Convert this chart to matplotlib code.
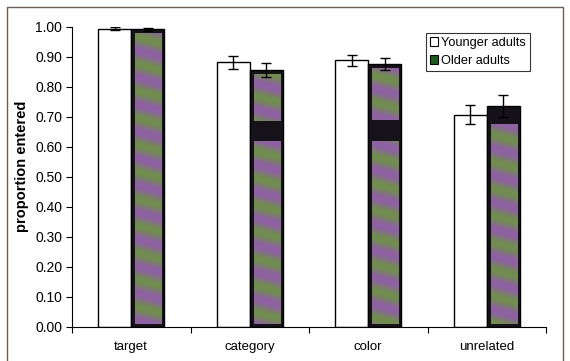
import numpy as np
import matplotlib
matplotlib.use('Agg')
import matplotlib.pyplot as plt
from matplotlib.patches import Rectangle

plt.rcParams['font.family'] = ['Liberation Sans', 'DejaVu Sans']

categories = ['target', 'category', 'color', 'unrelated']
younger = [0.994, 0.882, 0.888, 0.707]
younger_err = [0.004, 0.022, 0.019, 0.032]
older = [0.991, 0.855, 0.876, 0.735]
older_err = [0.004, 0.024, 0.020, 0.036]
# dark band inside the older-adult bars (low, high), None where absent
older_band = [None, (0.620, 0.685), (0.620, 0.690), (0.675, 0.735)]
yticks = [0.0, 0.1, 0.2, 0.3, 0.4, 0.5, 0.6, 0.7, 0.8, 0.9, 1.0]

BAR_W = 0.28
PURPLE = np.array([150, 85, 180]) / 255
GREEN = np.array([105, 150, 55]) / 255
GREY = np.array([128, 122, 130]) / 255
DARK = '#161219'


def texture(b, t, phase, nx=24):
    """Purple/green banded fill used inside the dark bars."""
    ny = max(int((t - b) * 300), 4)
    yv = np.linspace(t, b, ny)[:, None]
    xv = np.linspace(0, 1, nx)[None, :]
    s = 0.5 + 0.5 * np.sin(2 * np.pi * (yv / 0.09 + xv * 0.25) + phase)
    img = s[..., None] * PURPLE + (1 - s[..., None]) * GREEN
    return 0.7 * img + 0.3 * GREY


fig = plt.figure(figsize=(5.7, 3.61), dpi=100)
ax = fig.add_axes([72 / 570, 34.3 / 361, 474 / 570, 300 / 361])

x = np.arange(len(categories)) + 0.5
px = 1 / 118.5      # one pixel in x data units
py = 1 / 300        # one pixel in y data units

ax.bar(x - BAR_W / 2, younger, BAR_W, color='white', edgecolor='black',
       linewidth=1.0, zorder=2)
ax.bar(x + BAR_W / 2, older, BAR_W, color=DARK, edgecolor='black',
       linewidth=1.0, zorder=2)

for i, (xc, h) in enumerate(zip(x + BAR_W / 2, older)):
    left = xc - BAR_W / 2 + 4 * px
    right = xc + BAR_W / 2 - 3 * px
    top = h - 4 * py
    bottom = 3 * py
    pieces = [(bottom, top)]
    if older_band[i] is not None:
        lo, hi = older_band[i]
        pieces = [(bottom, lo)]
        if hi < top:
            pieces.append((hi, top))
    for b, t in pieces:
        ax.imshow(texture(b, t, i * 1.3), extent=(left, right, b, t),
                  aspect='auto', interpolation='bilinear', zorder=3)

ax.errorbar(x - BAR_W / 2, younger, yerr=younger_err, fmt='none',
            ecolor='black', elinewidth=1.0, capsize=3.5, capthick=1.0, zorder=4)
ax.errorbar(x + BAR_W / 2, older, yerr=older_err, fmt='none',
            ecolor='black', elinewidth=1.0, capsize=3.5, capthick=1.0, zorder=4)

ax.set_xlim(0, len(categories))
ax.set_ylim(0, 1.0)
ax.set_yticks(yticks)
ax.set_yticklabels([f'{v:.2f}' for v in yticks], fontsize=10)
ax.set_xticks(np.arange(len(categories) + 1))
ax.set_xticklabels([])
ax.set_xticks(x, minor=True)
ax.set_xticklabels(categories, minor=True, fontsize=9.5)
ax.tick_params(axis='x', which='minor', length=0, pad=10)
ax.tick_params(axis='x', which='major', length=4, width=0.8, direction='out')
ax.tick_params(axis='y', length=4, width=0.8, direction='out', pad=3)
for side in ('top', 'right'):
    ax.spines[side].set_visible(False)
ax.spines['left'].set_linewidth(0.8)
ax.spines['bottom'].set_linewidth(0.8)

ax.set_ylabel('proportion entered', fontsize=10.5, fontweight='bold')
ax.yaxis.set_label_coords(-43 / 474, 0.535)

# legend
leg_handles = [Rectangle((0, 0), 1, 1, facecolor='white', edgecolor='black', linewidth=0.8),
               Rectangle((0, 0), 1, 1, facecolor='#1f5a1f', edgecolor='black', linewidth=0.8)]
leg = ax.legend(leg_handles, ['Younger adults', 'Older adults'],
                loc='upper left', bbox_to_anchor=((426 - 72) / 474, 1 - (33 - 26.7) / 300),
                fontsize=9.2, frameon=True, fancybox=False, edgecolor='black',
                handlelength=0.6, handleheight=0.7, handletextpad=0.3,
                borderpad=0.3, borderaxespad=0, labelspacing=0.5)
leg.get_frame().set_linewidth(0.8)

# chart-area border
fig.patches.append(Rectangle((7 / 570, -0.05), (563 - 7) / 570, 1.05 - 6.5 / 361,
                             transform=fig.transFigure, fill=False,
                             edgecolor='#6a5e58', linewidth=1.0))

fig.savefig('out.png', dpi=100)
plt.close(fig)
